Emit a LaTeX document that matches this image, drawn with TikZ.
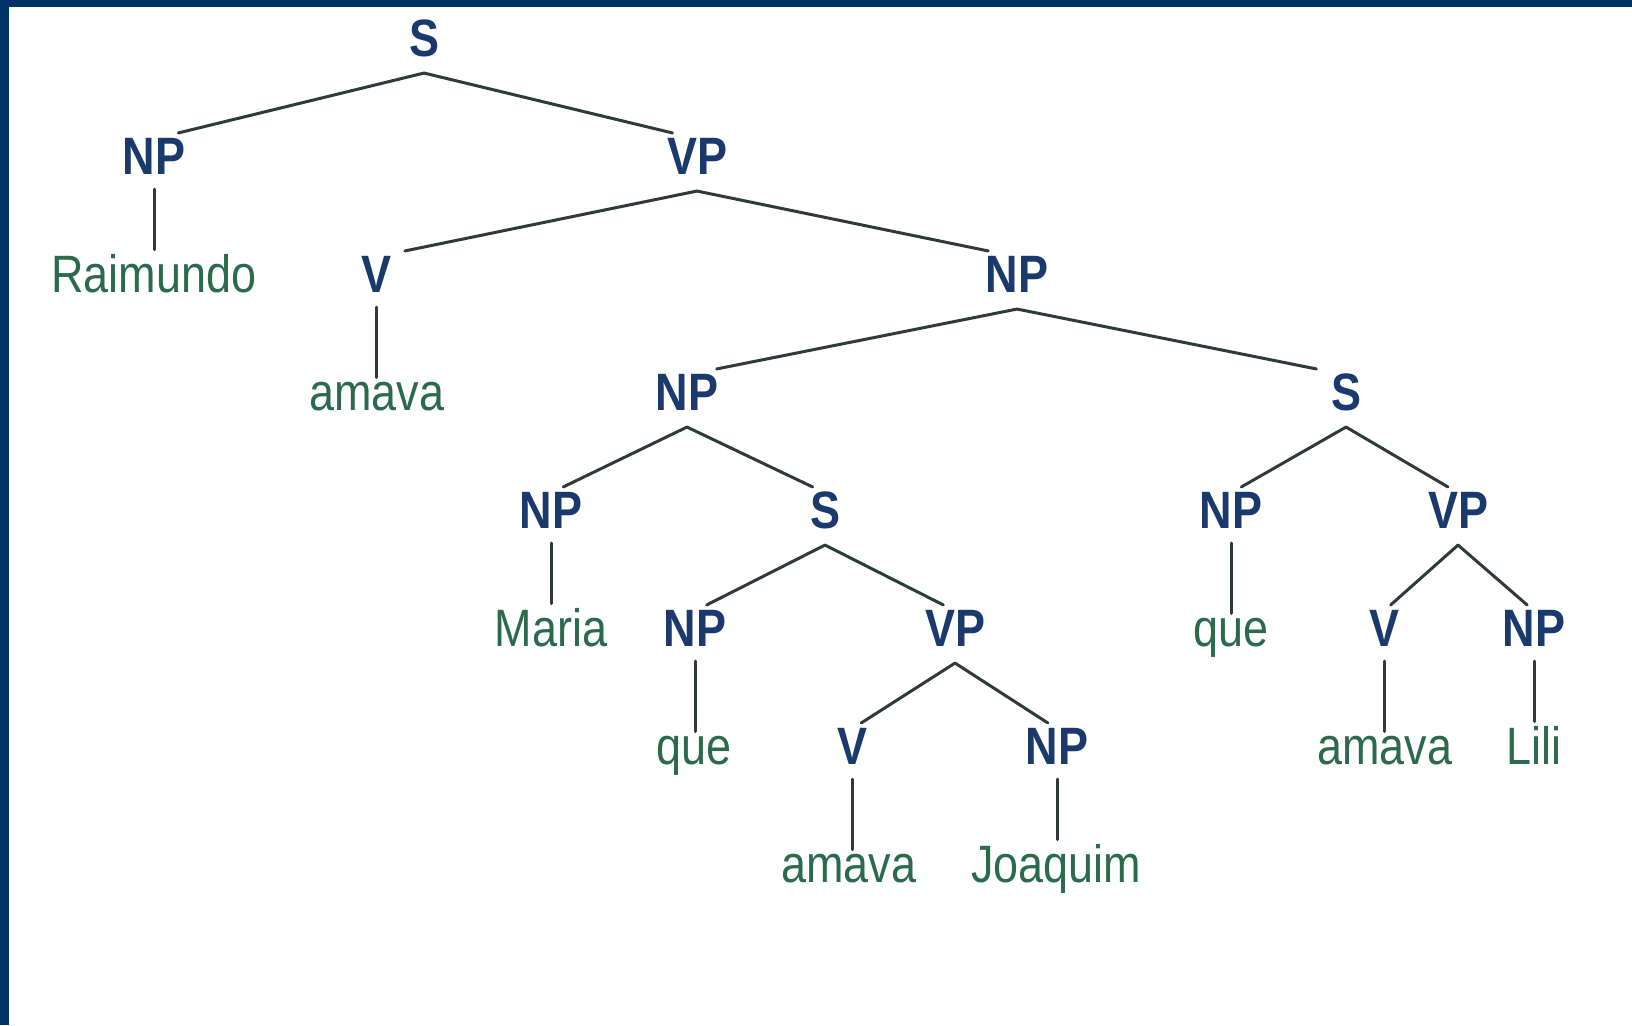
\documentclass[tikz,border=0pt]{standalone}
\usepackage{fontspec}
\setmainfont{Liberation Sans}[FakeStretch=0.855]
\usetikzlibrary{calc}
\definecolor{framec}{HTML}{003366}
\definecolor{labc}{HTML}{1A3A6E}
\definecolor{wordc}{HTML}{2B6B4C}
\definecolor{edgec}{HTML}{2F3B3B}
\tikzset{
  cat/.style={inner sep=0pt, text height=37.7pt, text depth=0pt,
    font=\fontsize{52.6}{60}\selectfont\bfseries, text=labc},
  word/.style={inner sep=0pt, anchor=base,
    font=\fontsize{52.6}{60}\selectfont, text=wordc},
  branch/.style={draw=edgec, line width=3pt, line cap=round},
}
\newcommand\edgeto[2]{\draw[branch] ($(#1.south)+(0,16)$) -- ($(#2.north)!0.09!(#2.north -| #1.south)+(0,-4)$);}
\newcommand\leafto[2]{\draw[branch] ($(#1.south)+(0,14)$) -- ($(#1.south |- #2.north)+(0,-4)$);}
\begin{document}
\begin{tikzpicture}[x=1pt,y=-1pt]
\useasboundingbox (0,0) rectangle (1632,1025);
\fill[white] (0,0) rectangle (1632,1025);
\fill[framec] (0,0) rectangle (1632,7);
\fill[framec] (0,0) rectangle (9,1025);

\node[cat] (s0) at (424,38) {S};
\node[cat] (np1) at (154,156) {NP};
\node[cat] (vp1) at (697,156) {VP};
\node[word] (w1) at (154,292) {Raimundo};
\node[cat] (v1) at (376,274) {V};
\node[cat] (np2) at (1017,274) {NP};
\node[word] (w2) at (377,410) {amava};
\node[cat] (np3) at (687,392) {NP};
\node[cat] (s1) at (1346,392) {S};
\node[cat] (np4) at (551,510) {NP};
\node[cat] (s2) at (825,510) {S};
\node[cat] (np7) at (1231,510) {NP};
\node[cat] (vp3) at (1458,510) {VP};
\node[word] (w3) at (551,646) {Maria};
\node[cat] (np5) at (695,628) {NP};
\node[cat] (vp2) at (955,628) {VP};
\node[word] (w6) at (1231,646) {que};
\node[cat] (v3) at (1384,628) {V};
\node[cat] (np8) at (1534,628) {NP};
\node[word] (w4) at (694,764) {que};
\node[cat] (v2) at (852,746) {V};
\node[cat] (np6) at (1057,746) {NP};
\node[word] (w7) at (1385,764) {amava};
\node[word] (w8) at (1534,764) {Lili};
\node[word] (w5) at (849,882) {amava};
\node[word] (w9) at (1056,882) {Joaquim};

\edgeto{s0}{np1}
\edgeto{s0}{vp1}
\leafto{np1}{w1}
\edgeto{vp1}{v1}
\edgeto{vp1}{np2}
\leafto{v1}{w2}
\edgeto{np2}{np3}
\edgeto{np2}{s1}
\edgeto{np3}{np4}
\edgeto{np3}{s2}
\leafto{np4}{w3}
\edgeto{s2}{np5}
\edgeto{s2}{vp2}
\leafto{np5}{w4}
\edgeto{vp2}{v2}
\edgeto{vp2}{np6}
\leafto{v2}{w5}
\leafto{np6}{w9}
\edgeto{s1}{np7}
\edgeto{s1}{vp3}
\leafto{np7}{w6}
\edgeto{vp3}{v3}
\edgeto{vp3}{np8}
\leafto{v3}{w7}
\leafto{np8}{w8}
\end{tikzpicture}
\end{document}
